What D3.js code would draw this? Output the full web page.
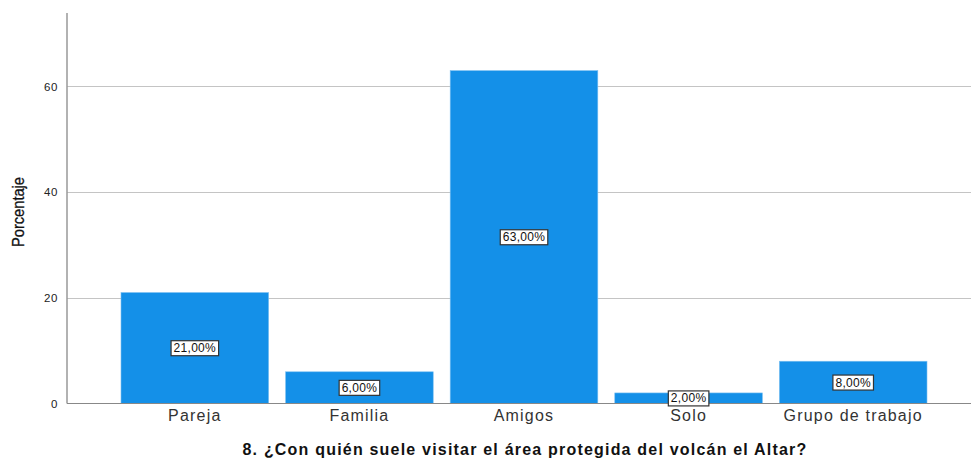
<!DOCTYPE html>
<html>
<head>
<meta charset="utf-8">
<script src="https://cdn.jsdelivr.net/npm/d3@7"></script>
<style>
  body { margin: 0; background: #fff; }
  svg { display: block; font-family: "Liberation Sans", Arial, sans-serif; }
</style>
</head>
<body>
<svg id="chart" width="971" height="458"></svg>
<script>
// values
var categories = ["Pareja", "Familia", "Amigos", "Solo", "Grupo de trabajo"];
var percents = [21, 6, 63, 2, 8];
var labels = ["21,00%", "6,00%", "63,00%", "2,00%", "8,00%"];
var yTicks = [0, 20, 40, 60];

var data = categories.map(function(c, i) {
  return { cat: c, value: percents[i], label: labels[i] };
});

var svg = d3.select("#chart");
var plotLeft = 67, plotRight = 971, plotTop = 13, plotBottom = 403.5;

var x = d3.scaleBand()
    .domain(categories)
    .range([121, 927])
    .paddingInner(0.103)
    .paddingOuter(0);

var y = d3.scaleLinear().domain([0, 73.9]).range([plotBottom, plotTop]);

// gridlines
svg.append("g")
  .selectAll("line")
  .data(yTicks.filter(function(d) { return d > 0; }))
  .enter().append("line")
    .attr("x1", plotLeft).attr("x2", plotRight)
    .attr("y1", function(d) { return Math.round(y(d)) + 0.5; })
    .attr("y2", function(d) { return Math.round(y(d)) + 0.5; })
    .attr("stroke", "#c4c4c4")
    .attr("stroke-width", 1);

// bars
svg.append("g")
  .selectAll("rect")
  .data(data)
  .enter().append("rect")
    .attr("x", function(d) { return x(d.cat); })
    .attr("y", function(d) { return y(d.value); })
    .attr("width", x.bandwidth())
    .attr("height", function(d) { return y(0) - y(d.value); })
    .attr("fill", "#1490e8")
    .attr("stroke", "#7cc0f2")
    .attr("stroke-width", 0.6);

// y axis
var yAxis = d3.axisLeft(y).tickValues(yTicks).tickSize(0).tickPadding(9);
var yG = svg.append("g")
    .attr("transform", "translate(" + plotLeft + ",0)")
    .call(yAxis);
yG.select(".domain").remove();
yG.selectAll("text")
    .attr("font-size", 11.5)
    .attr("letter-spacing", 0.6)
    .attr("fill", "#222")
    .attr("font-family", "'Liberation Sans', Arial, sans-serif");
svg.append("line")
    .attr("x1", plotLeft).attr("x2", plotLeft)
    .attr("y1", plotTop).attr("y2", plotBottom)
    .attr("stroke", "#999").attr("stroke-width", 1.5);

// x axis
var xAxis = d3.axisBottom(x).tickSize(0).tickPadding(6);
var xG = svg.append("g")
    .attr("transform", "translate(0," + plotBottom + ")")
    .call(xAxis);
xG.select(".domain").remove();
xG.selectAll("text")
    .attr("font-size", 16)
    .attr("letter-spacing", 1.2)
    .attr("fill", "#333")
    .attr("font-family", "'Liberation Sans', Arial, sans-serif");
svg.append("line")
    .attr("x1", plotLeft).attr("x2", plotRight)
    .attr("y1", plotBottom).attr("y2", plotBottom)
    .attr("stroke", "#888").attr("stroke-width", 1.2);

// value labels in boxes
var lab = svg.append("g")
  .selectAll("g")
  .data(data)
  .enter().append("g")
    .attr("transform", function(d) {
      return "translate(" + (x(d.cat) + x.bandwidth() / 2) + "," + ((y(0) + y(d.value)) / 2) + ")";
    });
lab.append("text")
    .attr("text-anchor", "middle")
    .attr("dy", "0.35em")
    .attr("font-size", 12)
    .attr("letter-spacing", 0.3)
    .attr("fill", "#111")
    .text(function(d) { return d.label; });
lab.each(function() {
  var g = d3.select(this);
  var bb = g.select("text").node().getBBox();
  g.insert("rect", "text")
    .attr("x", bb.x - 2.5).attr("y", bb.y - 0.5)
    .attr("width", bb.width + 5).attr("height", bb.height + 1)
    .attr("fill", "#fff")
    .attr("stroke", "#333").attr("stroke-width", 1.2);
});

// axis titles
svg.append("text")
    .attr("transform", "translate(24,212) rotate(-90)")
    .attr("text-anchor", "middle")
    .attr("font-size", 16)
    .attr("fill", "#111")
    .attr("stroke", "#111").attr("stroke-width", 0.3)
    .attr("font-family", "'Liberation Sans Narrow', 'Liberation Sans', Arial, sans-serif")
    .attr("textLength", 70)
    .attr("lengthAdjust", "spacingAndGlyphs")
    .text("Porcentaje");

svg.append("text")
    .attr("x", 525).attr("y", 455)
    .attr("text-anchor", "middle")
    .attr("font-size", 16)
    .attr("letter-spacing", 1.2)
    .attr("font-weight", "bold")
    .attr("fill", "#111")
    .text("8. ¿Con quién suele visitar el área protegida del volcán el Altar?");
</script>
</body>
</html>
